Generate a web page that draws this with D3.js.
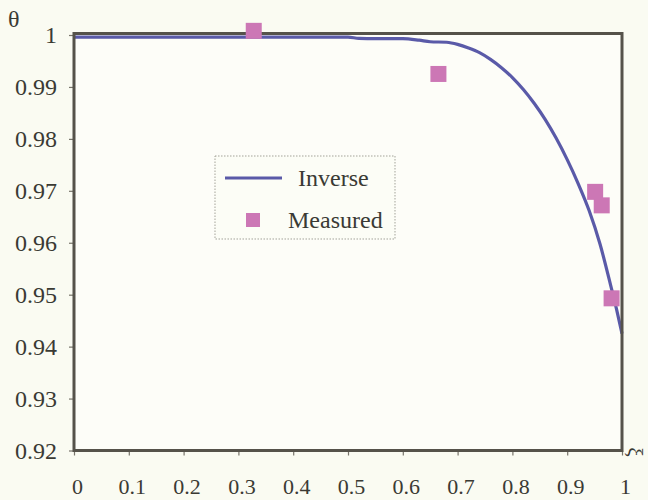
<!DOCTYPE html>
<html>
<head>
<meta charset="utf-8">
<script src="https://cdn.jsdelivr.net/npm/d3@7"></script>
<style>
  body { margin: 0; background: #fafbf2; }
  svg { display: block; }
  text { font-family: "Liberation Serif", "Times New Roman", serif; fill: #3a3a34; }
</style>
</head>
<body>
<div id="chart"></div>
<script>
// curve computed by the inverse method
const inverseXi = [0, 0.1, 0.2, 0.3, 0.4, 0.5, 0.52, 0.55, 0.6, 0.63, 0.65, 0.68, 0.7, 0.72,
  0.74, 0.76, 0.78, 0.8, 0.82, 0.84, 0.86, 0.88, 0.9, 0.92, 0.94, 0.96, 0.98, 0.99, 1.0];
const inverseTheta = [0.9996, 0.9996, 0.9996, 0.9996, 0.9996, 0.9996, 0.99935, 0.9993, 0.9993,
  0.999, 0.9987, 0.9986, 0.9982, 0.9975, 0.9966, 0.9953, 0.9937, 0.9918, 0.9895, 0.9868,
  0.9837, 0.9801, 0.976, 0.9714, 0.9662, 0.9597, 0.9515, 0.9472, 0.9425];

// measured points
const measuredXi = [0.328, 0.665, 0.951, 0.963, 0.981];
const measuredTheta = [1.0008, 0.9925, 0.9698, 0.9672, 0.9493];

// tick values
const xTicks = [0, 0.1, 0.2, 0.3, 0.4, 0.5, 0.6, 0.7, 0.8, 0.9, 1];
const yTicks = [0.92, 0.93, 0.94, 0.95, 0.96, 0.97, 0.98, 0.99, 1];

const width = 648;
const height = 500;
const lineColor = "#5a5aa8";
const markColor = "#cc77b5";
const frameColor = "#55524a";

const x = d3.scaleLinear().domain([0, 1]).range([74, 622]);
const y = d3.scaleLinear().domain([0.92, 1]).range([450.5, 35]);

const svg = d3.select("#chart").append("svg")
  .attr("width", width)
  .attr("height", height);

// plot area
svg.append("rect")
  .attr("x", x(0)).attr("y", y(1))
  .attr("width", x(1) - x(0)).attr("height", y(0.92) - y(1))
  .attr("fill", "#fdfdf8");

// axes
const fmt = d => d === 0 || d === 1 ? String(d) : String(+d.toFixed(2));

const yAxis = svg.append("g")
  .attr("transform", `translate(${x(0)},0)`)
  .call(d3.axisLeft(y).tickValues(yTicks).tickSize(5).tickPadding(12).tickFormat(fmt));

const xAxis = svg.append("g")
  .attr("transform", `translate(0,${y(0.92)})`)
  .call(d3.axisBottom(x).tickValues(xTicks).tickSize(5).tickPadding(23).tickFormat(fmt));

[xAxis, yAxis].forEach(g => {
  g.select(".domain").remove();
  g.selectAll(".tick line").attr("stroke", "#77746a").attr("stroke-width", 1.2);
  g.selectAll(".tick text")
    .style("font-family", '"Liberation Serif", serif')
    .attr("fill", "#3a3a34");
});
yAxis.selectAll(".tick text").style("font-size", "24px");
xAxis.selectAll(".tick text").style("font-size", "22px").attr("dx", 3);

// inverse curve
const curve = d3.line()
  .x((d, i) => x(inverseXi[i]))
  .y(d => y(d))
  .curve(d3.curveMonotoneX);

svg.append("path")
  .datum(inverseTheta)
  .attr("d", curve)
  .attr("fill", "none")
  .attr("stroke", lineColor)
  .attr("stroke-width", 3.2)
  .attr("stroke-linejoin", "round");

// frame
svg.append("rect")
  .attr("x", x(0)).attr("y", y(1) - 1.5)
  .attr("width", x(1) - x(0)).attr("height", y(0.92) - y(1) + 1.5)
  .attr("fill", "none")
  .attr("stroke", frameColor)
  .attr("stroke-width", 3);

// measured squares
const sq = 16;
svg.append("g").selectAll("rect")
  .data(measuredTheta)
  .join("rect")
  .attr("x", (d, i) => x(measuredXi[i]) - sq / 2)
  .attr("y", d => y(d) - sq / 2)
  .attr("width", sq).attr("height", sq)
  .attr("fill", markColor);

// legend
const legend = svg.append("g").attr("transform", "translate(215,156)");
legend.append("rect")
  .attr("width", 180).attr("height", 83)
  .attr("fill", "#fcfdf6")
  .attr("stroke", "#a3a399")
  .attr("stroke-width", 1)
  .attr("stroke-dasharray", "1.5,1.5");
legend.append("line")
  .attr("x1", 10).attr("x2", 67).attr("y1", 22).attr("y2", 22)
  .attr("stroke", lineColor).attr("stroke-width", 3.2);
legend.append("text")
  .attr("x", 83).attr("y", 30)
  .style("font-size", "24px")
  .text("Inverse");
legend.append("rect")
  .attr("x", 31).attr("y", 57).attr("width", 14).attr("height", 14)
  .attr("fill", markColor);
legend.append("text")
  .attr("x", 73).attr("y", 72)
  .style("font-size", "24px")
  .text("Measured");

// axis titles
svg.append("text")
  .attr("x", 8).attr("y", 27)
  .style("font-size", "24px")
  .text("θ");
svg.append("text")
  .attr("transform", "translate(628,452) rotate(90)")
  .attr("text-anchor", "middle")
  .style("font-size", "21px")
  .text("ξ");
</script>
</body>
</html>
